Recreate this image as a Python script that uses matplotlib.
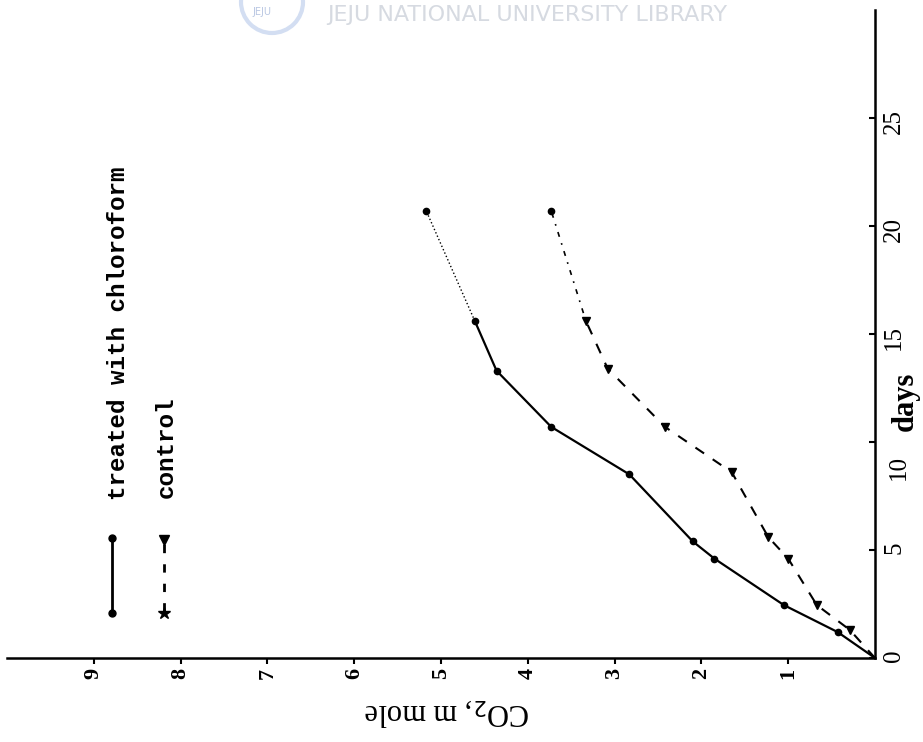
import matplotlib
matplotlib.use("Agg")
from matplotlib import pyplot as plt
from matplotlib.patches import Ellipse
import numpy as np

# values (days on the vertical axis, CO2 running leftwards)
treated_days = [0, 1.2, 2.45, 4.6, 5.4, 8.5, 10.7, 13.3, 15.6, 20.7]
treated_co2 = [0, 0.43, 1.05, 1.85, 2.1, 2.83, 3.73, 4.36, 4.61, 5.17]
control_days = [0, 1.3, 2.45, 4.6, 5.6, 8.6, 10.7, 13.4, 15.6, 20.7]
control_co2 = [0, 0.29, 0.67, 1.0, 1.23, 1.65, 2.42, 3.08, 3.33, 3.73]

co2_ticks = [1, 2, 3, 4, 5, 6, 7, 8, 9]
day_ticks = [0, 5, 10, 15, 20, 25]
day_labels = ['0', '5', '', '15', '20', '25']

W, H = 923, 742
fig = plt.figure(figsize=(W / 100, H / 100), dpi=100)
ax = fig.add_axes([7 / W, 1 - 658 / H, 868 / W, 648 / H])

ax.set_xlim(10, 0)
ax.set_ylim(0, 30)

for s in ['top', 'left']:
    ax.spines[s].set_visible(False)
for s in ['bottom', 'right']:
    ax.spines[s].set_linewidth(1.8)

ax.set_xticks(co2_ticks)
ax.set_xticklabels([str(t) for t in co2_ticks], fontsize=16, fontweight='bold',
                   family='Liberation Serif')
ax.tick_params(axis='x', direction='out', length=4, width=1.5, pad=3, labelrotation=90)

ax.yaxis.tick_right()
ax.set_yticks(day_ticks)
ax.set_yticklabels(day_labels, fontsize=18, family='Liberation Serif')
ax.tick_params(axis='y', direction='in', length=4, width=1.5, pad=6, labelrotation=90)

# treated with chloroform: solid up to day ~15, then dotted
ax.plot(treated_co2[:9], treated_days[:9], '-', color='black', lw=1.6,
        marker='o', ms=4.5, markevery=list(range(1, 9)))
ax.plot(treated_co2[8:], treated_days[8:], ':', color='black', lw=1.0,
        marker='o', ms=4.5, markevery=[1])

# control: dashed, last leg dotted
ax.plot(control_co2[:9], control_days[:9], color='black', lw=1.5, dashes=(5, 5),
        marker='v', ms=6, markevery=list(range(1, 9)))
ax.plot(control_co2[8:], control_days[8:], color='black', lw=1.2, dashes=(1, 4, 3, 4),
        marker='o', ms=4.5, markevery=[1])

# rotated legend, drawn by hand
ax.plot([0.121, 0.121], [0.069, 0.185], '-', color='black', lw=2,
        marker='o', ms=5, transform=ax.transAxes, clip_on=False)
ax.plot([0.181, 0.181], [0.072, 0.182], color='black', lw=2, dashes=(3, 4),
        transform=ax.transAxes, clip_on=False)
ax.plot([0.181], [0.182], marker='v', ms=7, color='black', transform=ax.transAxes)
ax.plot([0.181], [0.069], marker='*', ms=9, color='black', transform=ax.transAxes)
ax.text(0.128, 0.244, 'treated with chloroform', rotation=90, ha='center', va='bottom',
        fontsize=17.5, fontweight='bold', family='Liberation Mono', transform=ax.transAxes)
ax.text(0.184, 0.247, 'control', rotation=90, ha='center', va='bottom',
        fontsize=17.5, fontweight='bold', family='Liberation Mono', transform=ax.transAxes)

# axis titles (page was scanned sideways)
fig.text(447 / W, 1 - 712 / H, 'CO$_2$, m mole', rotation=180, ha='center', va='center',
         fontsize=22, family='Liberation Serif')
ax.text(1.028, 8.8, '10', rotation=90, ha='center', va='center', fontsize=18,
        family='Liberation Serif', transform=ax.get_yaxis_transform())
ax.text(1.035, 11.9, 'days', rotation=90, ha='center', va='center', fontsize=22,
        fontweight='bold', family='Liberation Serif', transform=ax.get_yaxis_transform())

# library watermark at the top edge
fig.text(327 / W, 1 - 15 / H, 'JEJU NATIONAL UNIVERSITY LIBRARY', color='#d6dae1',
         fontsize=16, family='DejaVu Sans', ha='left', va='center')
logo = Ellipse((272 / W, 1 - 2 / H), 62 / W, 62 / H, transform=fig.transFigure,
               facecolor='none', edgecolor='#d3def2', lw=3)
fig.add_artist(logo)
fig.text(262 / W, 1 - 12 / H, 'JEJU', color='#b8c6e2', fontsize=7, ha='center', va='center')

plt.savefig('out.png', dpi=100)
